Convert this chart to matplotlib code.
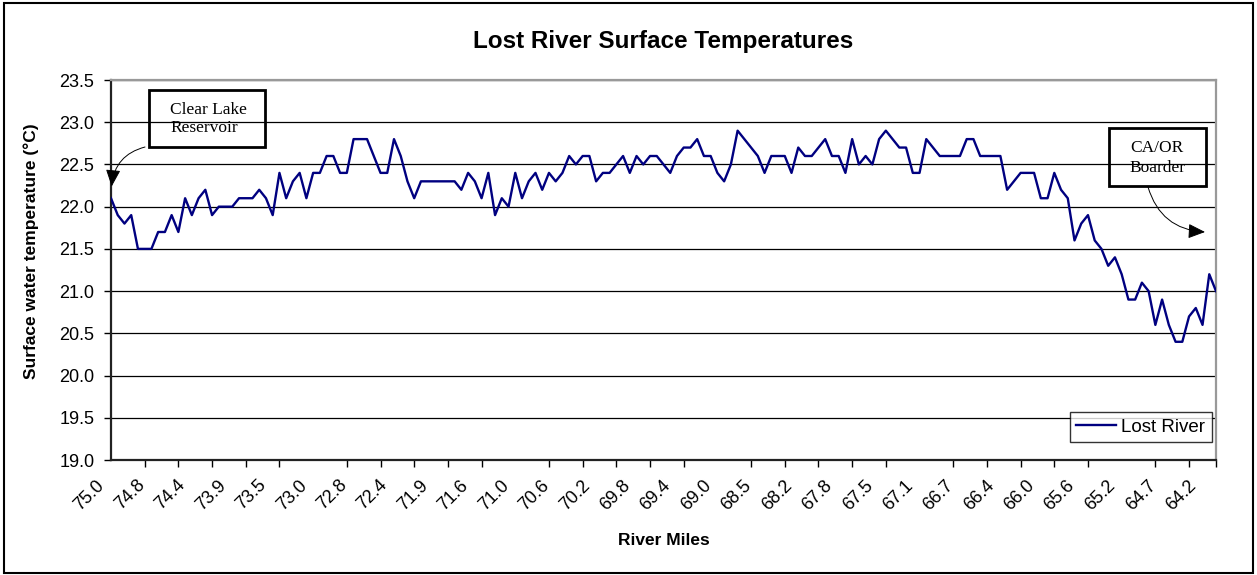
import matplotlib.pyplot as plt
from matplotlib.patches import Rectangle
from matplotlib.transforms import ScaledTranslation

temps = [22.1, 21.9, 21.8, 21.9, 21.5, 21.5, 21.5, 21.7, 21.7, 21.9,
         21.7, 22.1, 21.9, 22.1, 22.2, 21.9, 22.0, 22.0, 22.0, 22.1,
         22.1, 22.1, 22.2, 22.1, 21.9, 22.4, 22.1, 22.3, 22.4, 22.1,
         22.4, 22.4, 22.6, 22.6, 22.4, 22.4, 22.8, 22.8, 22.8, 22.6,
         22.4, 22.4, 22.8, 22.6, 22.3, 22.1, 22.3, 22.3, 22.3, 22.3,
         22.3, 22.3, 22.2, 22.4, 22.3, 22.1, 22.4, 21.9, 22.1, 22.0,
         22.4, 22.1, 22.3, 22.4, 22.2, 22.4, 22.3, 22.4, 22.6, 22.5,
         22.6, 22.6, 22.3, 22.4, 22.4, 22.5, 22.6, 22.4, 22.6, 22.5,
         22.6, 22.6, 22.5, 22.4, 22.6, 22.7, 22.7, 22.8, 22.6, 22.6,
         22.4, 22.3, 22.5, 22.9, 22.8, 22.7, 22.6, 22.4, 22.6, 22.6,
         22.6, 22.4, 22.7, 22.6, 22.6, 22.7, 22.8, 22.6, 22.6, 22.4,
         22.8, 22.5, 22.6, 22.5, 22.8, 22.9, 22.8, 22.7, 22.7, 22.4,
         22.4, 22.8, 22.7, 22.6, 22.6, 22.6, 22.6, 22.8, 22.8, 22.6,
         22.6, 22.6, 22.6, 22.2, 22.3, 22.4, 22.4, 22.4, 22.1, 22.1,
         22.4, 22.2, 22.1, 21.6, 21.8, 21.9, 21.6, 21.5, 21.3, 21.4,
         21.2, 20.9, 20.9, 21.1, 21.0, 20.6, 20.9, 20.6, 20.4, 20.4,
         20.7, 20.8, 20.6, 21.2, 21.0]

mile_labels = ['75.0', '74.8', '74.4', '73.9', '73.5', '73.0', '72.8', '72.4',
               '71.9', '71.6', '71.0', '70.6', '70.2', '69.8', '69.4', '69.0',
               '68.5', '68.2', '67.8', '67.5', '67.1', '66.7', '66.4', '66.0',
               '65.6', '65.2', '64.7', '64.2']
label_step = 6
tick_step = 5
y_ticks = [19.0, 19.5, 20.0, 20.5, 21.0, 21.5, 22.0, 22.5, 23.0, 23.5]

W, H = 1257, 575
plt.rcParams['font.family'] = ['Liberation Sans', 'DejaVu Sans']
fig = plt.figure(figsize=(W / 100, H / 100), dpi=100)

# outer chart border
fig.patches.append(Rectangle((4 / W, 2 / H), 1249 / W, 570 / H, transform=fig.transFigure,
                             fill=False, edgecolor='black', linewidth=1.5))

ax = fig.add_axes([111 / W, 1 - 460 / H, (1216 - 111) / W, (460 - 80) / H])
x = list(range(len(temps)))
ax.plot(x, temps, color='#000080', linewidth=1.7, label='Lost River', zorder=3)

ax.set_xlim(0, len(temps) - 1)
ax.set_ylim(y_ticks[0], y_ticks[-1])
ax.set_yticks(y_ticks)
ax.set_yticklabels(['%.1f' % v for v in y_ticks], fontsize=13)
ax.yaxis.grid(True, color='black', linewidth=0.9)
ax.set_axisbelow(True)

label_pos = [i * label_step for i in range(len(mile_labels))]
ax.set_xticks(label_pos)
ax.set_xticklabels(mile_labels, rotation=45, ha='right', rotation_mode='anchor', fontsize=13)
ax.tick_params(axis='x', which='major', length=0, pad=12)
minor = list(range(0, len(temps), tick_step)) + [len(temps) - 1]
ax.set_xticks(minor, minor=True)
ax.tick_params(axis='x', which='minor', length=5, width=1, direction='out')
ax.tick_params(axis='y', length=5, width=1, direction='out', pad=7)

# nudge the slanted mile labels left so they end just before their tick
shift = ScaledTranslation(-0.15, 0, fig.dpi_scale_trans)
for lab in ax.get_xticklabels():
    lab.set_transform(lab.get_transform() + shift)

for side in ['left', 'bottom']:
    ax.spines[side].set_color('#222222')
    ax.spines[side].set_linewidth(1.6)
for side in ['top', 'right']:
    ax.spines[side].set_color('#999999')
    ax.spines[side].set_linewidth(1.6)

ax.set_title('Lost River Surface Temperatures', fontsize=17.5, fontweight='bold', pad=23)
ax.set_xlabel('River Miles', fontsize=12.5, fontweight='bold', labelpad=14)
ax.set_ylabel('Surface water temperature (\u00b0C)', fontsize=12.5, fontweight='bold')
ax.yaxis.set_label_coords(-0.065, 0.549)

leg = ax.legend(loc='lower right', bbox_to_anchor=(0.9964, 0.047), borderaxespad=0,
                fontsize=13.5, frameon=True, fancybox=False, handlelength=2.1,
                borderpad=0.35, handletextpad=0.3)
leg.get_frame().set_edgecolor('black')
leg.get_frame().set_linewidth(1.0)

serif = ['Liberation Serif', 'DejaVu Serif']
arrow_style = dict(arrowstyle='-|>,head_length=0.8,head_width=0.35',
                   connectionstyle='arc3,rad=0.35', color='black',
                   linewidth=0.7, mutation_scale=13, shrinkA=0, shrinkB=0)

# Clear Lake Reservoir note
ax.add_patch(Rectangle((38 / 1105, (460 - 147) / 380), 116 / 1105, 57 / 380,
                       transform=ax.transAxes, fill=False, edgecolor='black',
                       linewidth=2, clip_on=False, zorder=4))
ax.text(59 / 1105, (460 - 119) / 380, 'Clear Lake\nReservoir', transform=ax.transAxes,
        family=serif, fontsize=12.5, ha='left', va='center', linespacing=1.25)
ax.annotate('', xy=(0.1, temps[0] + 0.14), xytext=(34 / 1105, (460 - 147) / 380),
            xycoords='data', textcoords='axes fraction', arrowprops=arrow_style)

# CA/OR border note
ax.add_patch(Rectangle((998 / 1105, (460 - 186) / 380), 97 / 1105, 58 / 380,
                       transform=ax.transAxes, fill=False, edgecolor='black',
                       linewidth=2, clip_on=False, zorder=4))
ax.text(1046 / 1105, (460 - 158) / 380, 'CA/OR\nBoarder', transform=ax.transAxes,
        family=serif, fontsize=12.5, ha='center', va='center', linespacing=1.25)
ax.annotate('', xy=(1094 / 1105, (460 - 232) / 380), xytext=(1037 / 1105, (460 - 187) / 380),
            xycoords='axes fraction', textcoords='axes fraction', arrowprops=arrow_style)

plt.savefig('out.png', dpi=100)
